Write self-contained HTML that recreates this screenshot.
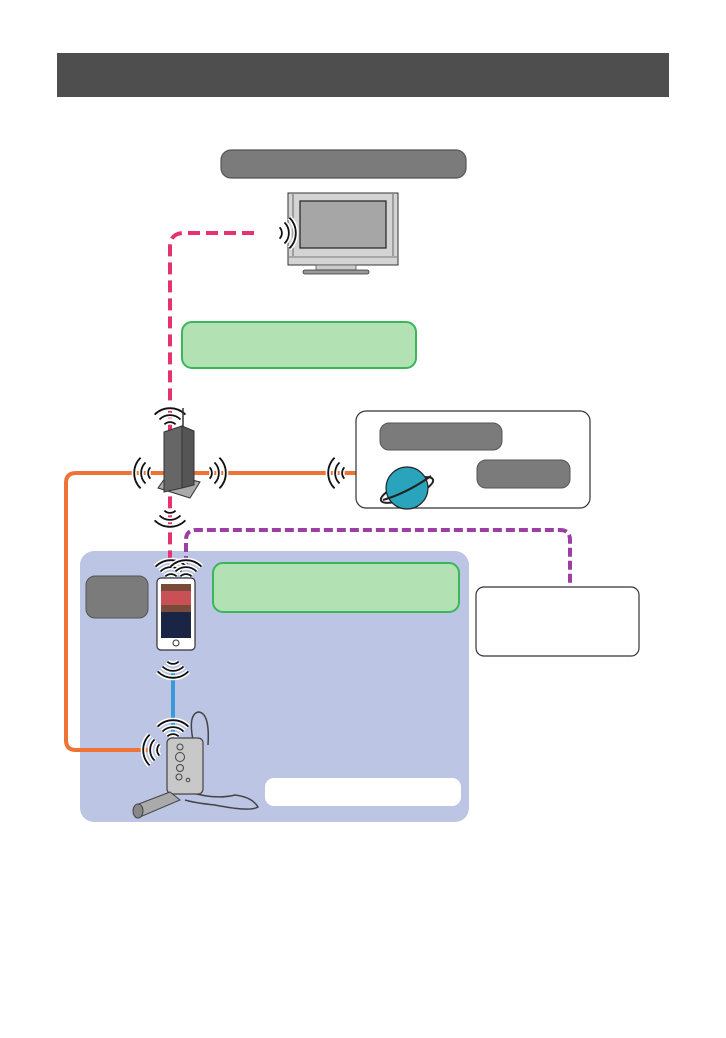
<!DOCTYPE html>
<html><head><meta charset="utf-8"><style>
html,body{margin:0;padding:0;background:#fff;}
svg{display:block;}
</style></head><body>
<svg width="726" height="1038" viewBox="0 0 726 1038" xmlns="http://www.w3.org/2000/svg">
<defs>
<symbol id="wf" viewBox="-20 -20 40 40" width="40" height="40" overflow="visible">
<g fill="none" stroke="#fff" stroke-width="5">
<path d="M-5.6 -5.6 A8 8 0 0 1 5.6 -5.6"/>
<path d="M-10.5 -10.5 A14.8 14.8 0 0 1 10.5 -10.5"/>
<path d="M-15.4 -15.4 A21.7 21.7 0 0 1 15.4 -15.4"/>
</g>
<g fill="none" stroke="#111" stroke-width="1.8">
<path d="M-5.6 -5.6 A8 8 0 0 1 5.6 -5.6"/>
<path d="M-10.5 -10.5 A14.8 14.8 0 0 1 10.5 -10.5"/>
<path d="M-15.4 -15.4 A21.7 21.7 0 0 1 15.4 -15.4"/>
</g>
</symbol>
</defs>
<rect x="57" y="53" width="612" height="44" fill="#4e4e4e"/>
<rect x="221" y="150" width="245" height="28" rx="10" fill="#7b7b7b" stroke="#555" stroke-width="1.2"/>

<rect x="80" y="551" width="389" height="271" rx="14" fill="#bcc5e3"/>

<path d="M254 233 H184 Q170 233 170 247 V560" fill="none" stroke="#e6336f" stroke-width="4" stroke-dasharray="12,6"/>
<path d="M356 473 H76 Q66 473 66 483 V740 Q66 750 76 750 H150" fill="none" stroke="#ef7237" stroke-width="4"/>
<path d="M186 565 V540 Q186 530 196 530 H560 Q570 530 570 540 V588" fill="none" stroke="#9b3fa5" stroke-width="4" stroke-dasharray="9,4"/>
<line x1="173" y1="668" x2="173" y2="735" stroke="#3a9ad9" stroke-width="4"/>

<rect x="288" y="193" width="110" height="72" fill="#d4d4d4" stroke="#333" stroke-width="1"/>
<line x1="293" y1="194" x2="293" y2="256" stroke="#666"/><line x1="393" y1="194" x2="393" y2="256" stroke="#666"/>
<rect x="300" y="201" width="86" height="47" fill="#a6a6a6" stroke="#222" stroke-width="1.2"/>
<line x1="289" y1="257" x2="397" y2="257" stroke="#777"/>
<rect x="316" y="265" width="40" height="5" fill="#ccc" stroke="#555" stroke-width=".8"/>
<rect x="303" y="270" width="66" height="4" rx="2" fill="#999" stroke="#333" stroke-width=".8"/>
<use href="#wf" x="254" y="213" transform="rotate(90 274 233)"/>

<rect x="182" y="322" width="234" height="46" rx="10" fill="#b2e2b4" stroke="#3bb55b" stroke-width="2"/>
<rect x="213" y="563" width="246" height="49" rx="10" fill="#b2e2b4" stroke="#3bb55b" stroke-width="2"/>

<rect x="356" y="411" width="234" height="97" rx="10" fill="#fff" stroke="#333" stroke-width="1.2"/>
<rect x="380" y="423" width="122" height="27" rx="9" fill="#7b7b7b" stroke="#555"/>
<rect x="477" y="460" width="93" height="28" rx="9" fill="#7b7b7b" stroke="#555"/>
<ellipse cx="407" cy="490" rx="28" ry="8" transform="rotate(-22 407 490)" fill="none" stroke="#222" stroke-width="2"/>
<circle cx="407" cy="488" r="21" fill="#2aa3bd" stroke="#222" stroke-width="1.2"/>
<path d="M383 500 Q407 493 431 476" fill="none" stroke="#222" stroke-width="2"/>
<use href="#wf" x="330" y="453" transform="rotate(-90 350 473)"/>

<use href="#wf" x="150" y="410"/>
<use href="#wf" x="150" y="485" transform="rotate(180 170 505)"/>
<use href="#wf" x="136" y="453" transform="rotate(-90 156 473)"/>
<use href="#wf" x="184" y="453" transform="rotate(90 204 473)"/>
<line x1="183" y1="408" x2="183" y2="430" stroke="#333" stroke-width="1.5"/>
<polygon points="158,488 190,498 200,482 168,474" fill="#aaa" stroke="#333" stroke-width="1"/>
<polygon points="164,432 182,426 182,488 164,492" fill="#666" stroke="#333"/>
<polygon points="182,426 194,431 194,485 182,488" fill="#555" stroke="#333"/>

<rect x="476" y="587" width="163" height="69" rx="8" fill="#fff" stroke="#333" stroke-width="1.2"/>
<rect x="86" y="576" width="62" height="42" rx="9" fill="#7b7b7b" stroke="#555"/>

<use href="#wf" x="151" y="562"/>
<use href="#wf" x="166" y="562"/>
<rect x="157" y="578" width="38" height="72" rx="4" fill="#fff" stroke="#333" stroke-width="1.2"/>
<rect x="161" y="584" width="30" height="28" fill="#7a4a3a"/>
<rect x="161" y="591" width="30" height="14" fill="#c95055"/>
<rect x="161" y="612" width="30" height="26" fill="#1a2444"/>
<circle cx="176" cy="643" r="3" fill="none" stroke="#333"/>
<use href="#wf" x="153" y="636" transform="rotate(180 173 656)"/>

<path d="M193 740 Q188 715 198 712 Q210 712 208 745" fill="none" stroke="#444" stroke-width="1.5"/>
<path d="M190 792 Q215 800 235 795 Q252 797 258 807 Q250 812 215 805 Q195 803 185 800" fill="none" stroke="#444" stroke-width="1.5"/>
<use href="#wf" x="153" y="722"/>
<use href="#wf" x="145" y="730" transform="rotate(-90 165 750)"/>
<rect x="167" y="738" width="36" height="56" rx="5" fill="#c8c8c8" stroke="#444" stroke-width="1.2"/>
<circle cx="180" cy="747" r="3" fill="none" stroke="#444"/>
<circle cx="180" cy="757" r="4.5" fill="none" stroke="#444"/>
<circle cx="180" cy="768" r="3.5" fill="none" stroke="#444"/>
<circle cx="179" cy="777" r="3" fill="none" stroke="#444"/>
<circle cx="188" cy="780" r="1.8" fill="none" stroke="#444"/>
<polygon points="136,805 170,792 180,800 140,817" fill="#aaa" stroke="#444"/>
<ellipse cx="138" cy="811" rx="5" ry="7" fill="#888" stroke="#444"/>

<rect x="265" y="778" width="196" height="28" rx="9" fill="#fff"/>
</svg>
</body></html>
